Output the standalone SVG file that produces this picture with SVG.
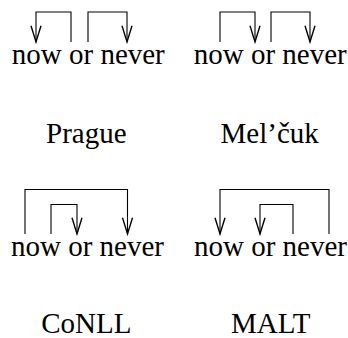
<svg xmlns="http://www.w3.org/2000/svg" width="348" height="338" viewBox="0 0 348 338">
<style>
.arc{fill:none;stroke:#000;stroke-width:1.1}
.t{font-family:'Liberation Serif','Tinos','Times New Roman','DejaVu Serif',serif;font-size:29px;fill:#000;text-anchor:middle}
</style>
<defs>
<marker id="ah" markerUnits="userSpaceOnUse" markerWidth="20" markerHeight="20" refX="0" refY="0" viewBox="-15 -6 16 12" orient="auto" overflow="visible">
<path d="M-13,-4 L0,0 L-13,4" fill="none" stroke="#000" stroke-width="1.1"/>
</marker>
</defs>
<g id="prague">
<text class="t" x="88.3" y="64">now or never</text>
<text class="t" x="86.3" y="143">Prague</text>
</g>
<g id="melcuk">
<text class="t" x="270.2" y="64">now or never</text>
<text class="t" x="269.7" y="143">Mel’čuk</text>
</g>
<g id="conll">
<text class="t" x="87.5" y="256">now or never</text>
<text class="t" x="86.3" y="333">CoNLL</text>
</g>
<g id="malt">
<text class="t" x="270.5" y="256">now or never</text>
<text class="t" x="270.8" y="333">MALT</text>
</g>
<g id="connectors">
<path class="arc" d="M71,42 V12 H36 V42" marker-end="url(#ah)"/>
<path class="arc" d="M88,42 V12 H127 V42" marker-end="url(#ah)"/>
<path class="arc" d="M220,42 V12 H255 V42" marker-end="url(#ah)"/>
<path class="arc" d="M271,42 V12 H310 V42" marker-end="url(#ah)"/>
<path class="arc" d="M25,234 V189.5 H127.5 V234" marker-end="url(#ah)"/>
<path class="arc" d="M51,234 V204.5 H77 V234" marker-end="url(#ah)"/>
<path class="arc" d="M329,234 V189.5 H220 V234" marker-end="url(#ah)"/>
<path class="arc" d="M293,234 V204.5 H260 V234" marker-end="url(#ah)"/>
</g>
</svg>
